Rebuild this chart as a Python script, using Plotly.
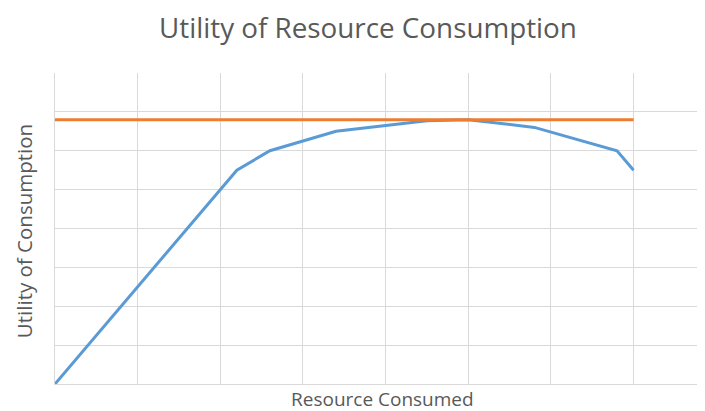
import plotly.graph_objects as go

# Data
resource = [0, 2.2, 2.6, 3.4, 4.5, 5.0, 5.8, 6.8, 7.0]
utility = [0, 5.5, 6.0, 6.5, 6.77, 6.8, 6.6, 6.0, 5.5]
max_x = [0, 7]
max_utility = [6.8, 6.8]

x_range = [0, 7.961]
y_range = [0, 8]

grid = "#d9d9d9"
text_col = "#595959"
font_family = "Open Sans, Lato, DejaVu Sans, sans-serif"

# The page shows the figure with an 8px body margin; positions below account for it.
L, T, B, W, H = 47, 64.7, 376, 705, 411
PW, PH = W - L, B - T


def px(fx):
    return (fx - L) / PW


def py(fy):
    return (B - fy) / PH


fig = go.Figure()
fig.add_trace(go.Scatter(x=resource, y=utility, mode="lines",
                         line=dict(color="#5b9bd5", width=3), showlegend=False,
                         hoverinfo="skip"))
fig.add_trace(go.Scatter(x=max_x, y=max_utility, mode="lines",
                         line=dict(color="#ed7d31", width=3), showlegend=False,
                         hoverinfo="skip"))

axis_common = dict(dtick=1, tick0=0, showgrid=True, gridcolor=grid, gridwidth=1.3,
                   showticklabels=False, ticks="", zeroline=True, zerolinecolor=grid,
                   zerolinewidth=1.3, showline=True, linecolor=grid, linewidth=1.3,
                   fixedrange=True)

fig.update_layout(
    width=W, height=H,
    margin=dict(l=L, r=0, t=T, b=H - B),
    paper_bgcolor="white", plot_bgcolor="white",
    xaxis=dict(range=x_range, **axis_common),
    yaxis=dict(range=y_range, **axis_common),
    annotations=[
        dict(text="Utility of Resource Consumption", xref="paper", yref="paper",
             x=px(360), y=py(19), xanchor="center", yanchor="middle",
             showarrow=False, font=dict(family=font_family, size=27.8, color=text_col)),
        dict(text="Resource Consumed", xref="paper", yref="paper",
             x=px(374), y=py(391), xanchor="center", yanchor="middle",
             showarrow=False, font=dict(family=font_family, size=19, color=text_col)),
        dict(text="Utility of Consumption", xref="paper", yref="paper", textangle=-90,
             x=px(16), y=py(223), xanchor="center", yanchor="middle",
             showarrow=False, font=dict(family=font_family, size=20.5, color=text_col)),
    ],
)

fig.write_html("out.html")
